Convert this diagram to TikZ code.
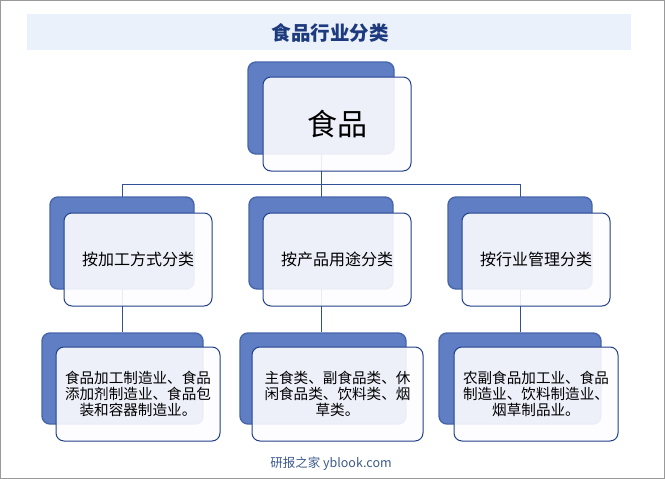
\documentclass[tikz,border=0pt]{standalone}
\usepackage{fontspec}
\setmainfont{Noto Sans CJK SC}
\usetikzlibrary{backgrounds}
\definecolor{shadowblue}{RGB}{96,126,196}
\definecolor{shadowedge}{RGB}{72,102,170}
\definecolor{frontedge}{RGB}{34,64,138}
\definecolor{frontfill}{RGB}{253,252,255}
\definecolor{linecol}{RGB}{50,80,150}
\definecolor{bandfill}{RGB}{234,241,251}
\definecolor{titlecol}{RGB}{28,58,125}
\definecolor{footcol}{RGB}{60,90,140}
\begin{document}
\begin{tikzpicture}[x=1pt,y=-1pt,
  shadowbox/.style={rectangle, rounded corners=8pt, fill=shadowblue, draw=shadowedge, line width=1.4pt, inner sep=0pt},
  frontbox/.style={rectangle, rounded corners=8pt, fill=frontfill, fill opacity=0.9, text opacity=1, draw=frontedge, line width=1pt, inner sep=0pt, align=center, text=black},
  midtext/.style={font=\fontsize{16}{18}\selectfont},
  bottext/.style={font=\fontsize{14.6}{16.2}\selectfont},
  conn/.style={draw=linecol, line width=0.8pt}]
\useasboundingbox (0,0) rectangle (665,479);
\draw[gray!80, line width=1pt] (0.5,0.5) rectangle (664.5,478.5);
\fill[bandfill] (27,14) rectangle (631,50);
\node[text=titlecol, font=\fontsize{19.5}{21}\selectfont\bfseries] (title) at (330,33) {食品行业分类};

% shadows
\node[shadowbox, minimum width=146pt, minimum height=92pt] (topS) at (321,108) {};
\node[shadowbox, minimum width=144pt, minimum height=92pt] (m1S) at (122,243) {};
\node[shadowbox, minimum width=144pt, minimum height=92pt] (m2S) at (321,243) {};
\node[shadowbox, minimum width=144pt, minimum height=92pt] (m3S) at (520,243) {};
\node[shadowbox, minimum width=161pt, minimum height=91pt] (b1S) at (122.5,378.5) {};
\node[shadowbox, minimum width=166pt, minimum height=91pt] (b2S) at (323,378.5) {};
\node[shadowbox, minimum width=162pt, minimum height=91pt] (b3S) at (520,378.5) {};

% fronts
\node[frontbox, minimum width=148pt, minimum height=94pt, font=\fontsize{30}{32}\selectfont] (top) at (337,124) {食品};
\node[frontbox, midtext, minimum width=148pt, minimum height=93pt] (m1) at (138,259.5) {按加工方式分类};
\node[frontbox, midtext, minimum width=148pt, minimum height=93pt] (m2) at (337,259.5) {按产品用途分类};
\node[frontbox, midtext, minimum width=148pt, minimum height=93pt] (m3) at (536,259.5) {按行业管理分类};
\node[frontbox, bottext, minimum width=164pt, minimum height=94pt] (b1) at (138,394) {食品加工制造业、食品\\添加剂制造业、食品包\\装和容器制造业。};
\node[frontbox, bottext, minimum width=171pt, minimum height=94pt] (b2) at (337.5,394) {主食类、副食品类、休\\闲食品类、饮料类、烟\\草类。};
\node[frontbox, bottext, minimum width=164pt, minimum height=94pt] (b3) at (536,394) {农副食品加工业、食品\\制造业、饮料制造业、\\烟草制品业。};

\node[text=footcol, font=\fontsize{12.5}{14}\selectfont] (footer) at (331,464) {研报之家 yblook.com};

\begin{scope}[on background layer]
  \coordinate (bus) at (321,184);
  \path (m1S.center |- bus) coordinate (busL);
  \path (m3S.center |- bus) coordinate (busR);
  \draw[conn] (topS.center) -- (bus);
  \draw[conn] (busL) -- (busR);
  \draw[conn] (busL) -- (m1S.center);
  \draw[conn] (bus) -- (m2S.center);
  \draw[conn] (busR) -- (m3S.center);
  \draw[conn] (m1S.center) -- (m1S.center |- b1S.north);
  \draw[conn] (m2S.center) -- (m2S.center |- b2S.north);
  \draw[conn] (m3S.center) -- (m3S.center |- b3S.north);
\end{scope}
\end{tikzpicture}
\end{document}
